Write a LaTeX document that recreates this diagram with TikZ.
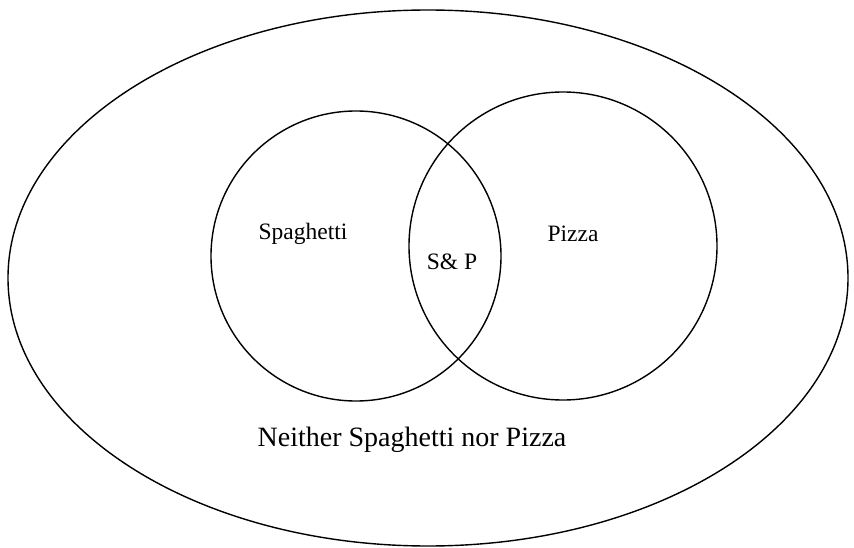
\documentclass[tikz,border=0pt]{standalone}
\usepackage{fontspec}
\setmainfont{Liberation Serif}
\tikzset{setlabel/.style={font=\fontsize{23.5}{28}\selectfont, inner sep=0pt},
  outerlabel/.style={font=\fontsize{28}{34}\selectfont, inner sep=0pt}}

\begin{document}
\begin{tikzpicture}[x=1pt,y=-1pt,line width=1.4pt]
\useasboundingbox (0,0) rectangle (854,548);
\coordinate (U) at (428,278);
\coordinate (S) at (356,256);
\coordinate (P) at (563,246);
\draw (U) ellipse [x radius=420, y radius=268];
\draw (S) circle (145);
\draw (P) circle (154);
\node[setlabel] (spag) at (303,234) {Spaghetti};
\node[setlabel] (pizza) at (573,234) {Pizza};
\node[setlabel] (both) at (452,262) {S\& P};
\node[outerlabel] (neither) at (412,440) {Neither Spaghetti nor Pizza};
\end{tikzpicture}
\end{document}
